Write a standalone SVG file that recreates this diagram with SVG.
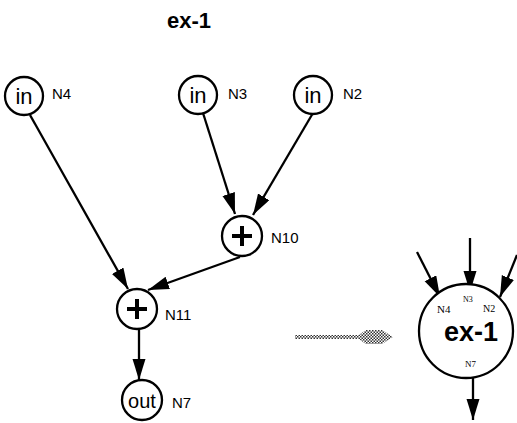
<svg xmlns="http://www.w3.org/2000/svg" width="517" height="423" viewBox="0 0 517 423">
<defs>
<marker id="ah" markerUnits="userSpaceOnUse" markerWidth="24" markerHeight="14" refX="21" refY="6.5" orient="auto">
<path d="M0,0 L21,6.5 L0,13 Z" fill="#000"/>
</marker>
<pattern id="dots" width="3" height="3" patternUnits="userSpaceOnUse">
<rect width="3" height="3" fill="#fff"/>
<rect width="1.5" height="1.5" fill="#333"/>
<rect x="1.5" y="1.5" width="1.5" height="1.5" fill="#333"/>
</pattern>
</defs>
<style>
.n{fill:#fff;stroke:#000;stroke-width:2.3}
.t{font-family:"Liberation Sans",Arial,sans-serif;fill:#000}
.lbl{font-family:"Liberation Sans",Arial,sans-serif;font-size:15px;fill:#000}
.s{font-family:"Liberation Serif","Times New Roman",serif;fill:#000}
.e{stroke:#000;stroke-width:2.3;fill:none;marker-end:url(#ah)}
.plus{stroke:#000;stroke-width:4;fill:none}
</style>
<rect width="517" height="423" fill="#fff"/>
<text class="t" x="189" y="28" font-size="22" font-weight="bold" text-anchor="middle">ex-1</text>
<g id="connectors">
<line class="e" x1="30" y1="115" x2="128" y2="289"/>
<line class="e" x1="203" y1="113" x2="235" y2="214"/>
<line class="e" x1="313" y1="113" x2="253" y2="215"/>
<line class="e" x1="240" y1="257" x2="148" y2="290"/>
<line class="e" x1="139" y1="329" x2="139" y2="380"/>
<line class="e" x1="417" y1="252" x2="440" y2="297"/>
<line class="e" x1="470" y1="238" x2="470" y2="292"/>
<line class="e" x1="517" y1="255" x2="500" y2="297"/>
<line class="e" x1="473" y1="378" x2="473" y2="420"/>
</g>
<g id="N4">
<circle class="n" cx="24" cy="96" r="19"/>
<text class="t" x="24" y="104" font-size="22" text-anchor="middle">in</text>
<text class="lbl" x="52" y="99">N4</text>
</g>
<g id="N3">
<circle class="n" cx="198" cy="95" r="19"/>
<text class="t" x="198" y="103" font-size="22" text-anchor="middle">in</text>
<text class="lbl" x="228" y="99">N3</text>
</g>
<g id="N2">
<circle class="n" cx="313" cy="95" r="19"/>
<text class="t" x="313" y="103" font-size="22" text-anchor="middle">in</text>
<text class="lbl" x="343" y="99">N2</text>
</g>
<g id="N10">
<circle class="n" cx="242" cy="236" r="20"/>
<path class="plus" d="M242,226 V246 M232,236 H252"/>
<text class="lbl" x="271" y="243">N10</text>
</g>
<g id="N11">
<circle class="n" cx="137" cy="309" r="20"/>
<path class="plus" d="M137,299 V319 M127,309 H147"/>
<text class="lbl" x="165" y="320">N11</text>
</g>
<g id="N7">
<circle class="n" cx="142" cy="400" r="20"/>
<text class="t" x="142" y="408" font-size="20" text-anchor="middle">out</text>
<text class="lbl" x="172" y="408">N7</text>
</g>
<g id="transform">
<line x1="295" y1="337" x2="362" y2="337" stroke="url(#dots)" stroke-width="4"/>
<polygon points="356,337 366,330 382,330 393,337 382,344 366,344" fill="url(#dots)"/>
</g>
<g id="ex1">
<circle class="n" cx="466" cy="331" r="47"/>
<text class="s" x="437" y="313" font-size="11">N4</text>
<text class="s" x="463" y="302" font-size="8">N3</text>
<text class="s" x="483" y="312" font-size="10">N2</text>
<text class="t" x="471" y="341" font-size="27" font-weight="bold" text-anchor="middle">ex-1</text>
<text class="s" x="465" y="367" font-size="9">N7</text>
</g>
</svg>
